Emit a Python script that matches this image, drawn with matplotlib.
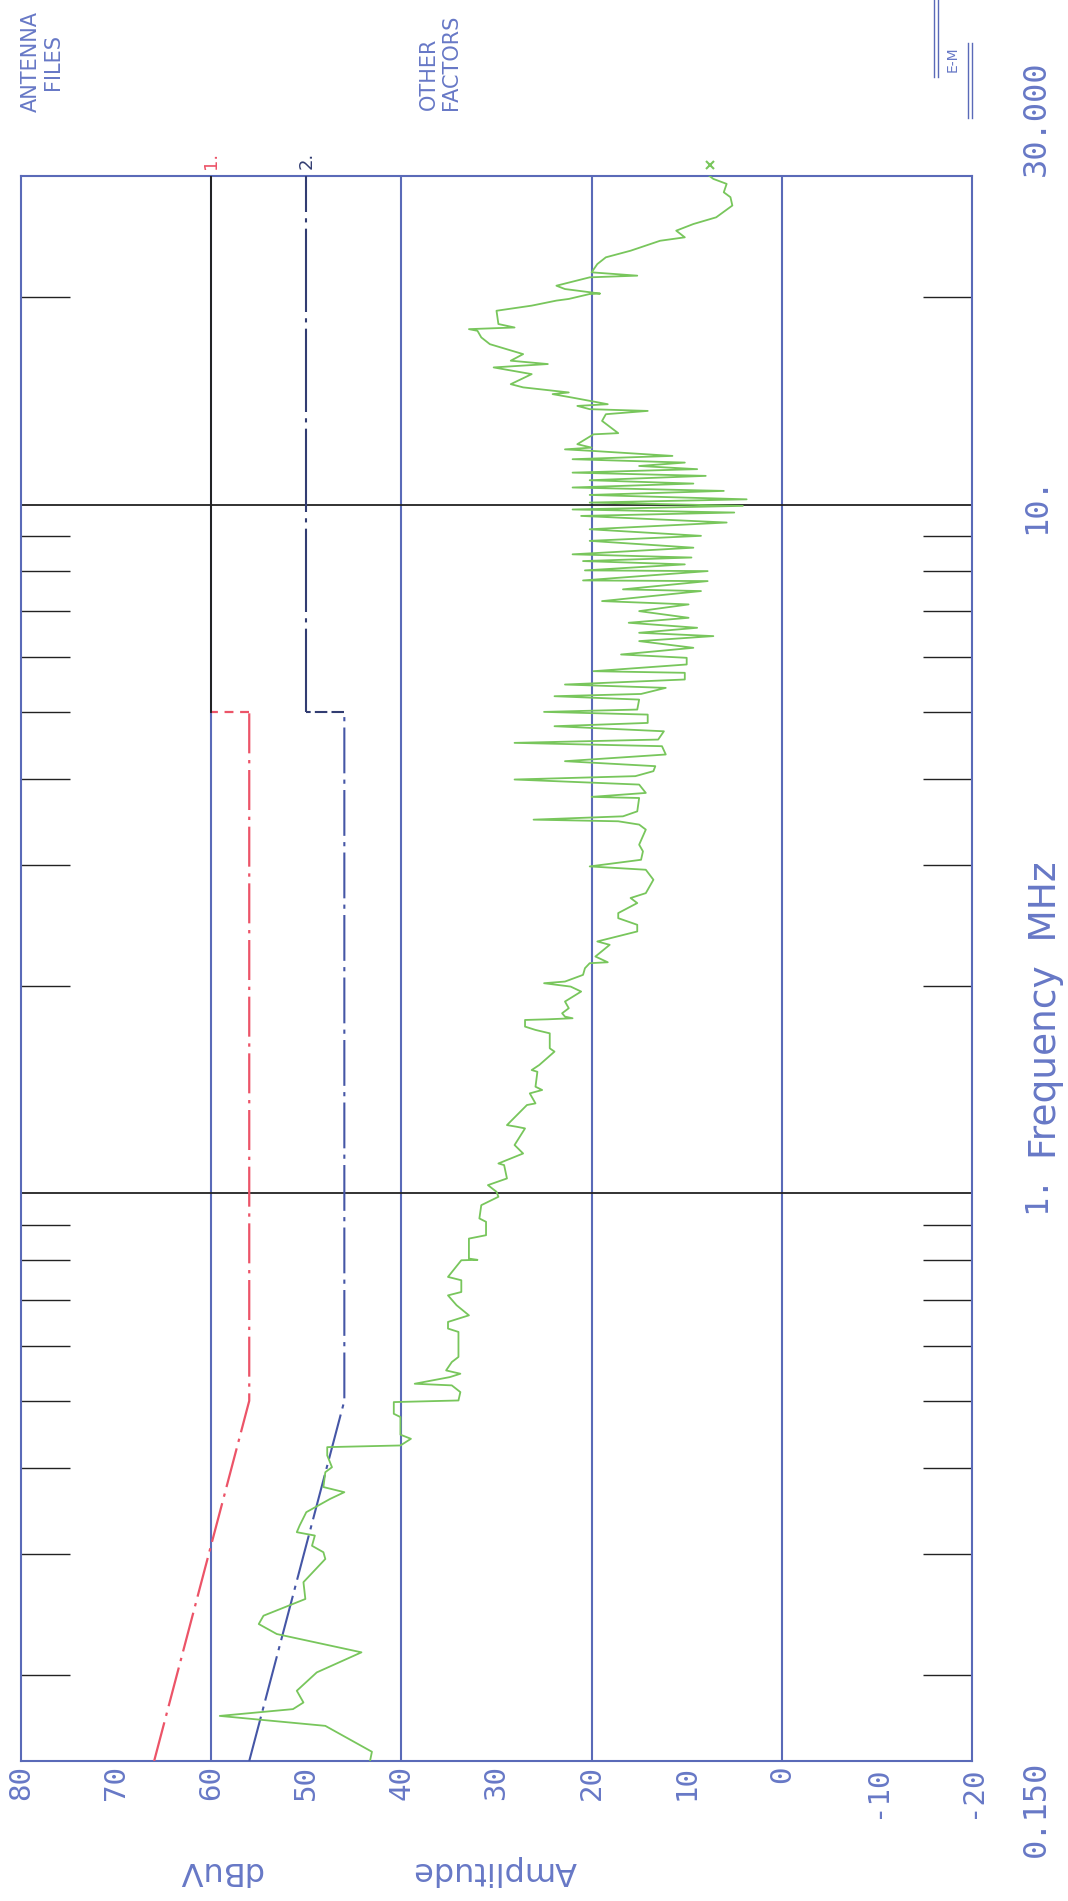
"""
Conducted emissions scan, 0.15-30 MHz, with class limit lines.
Plotter output, drawn rotated a quarter turn (frequency runs upward).
"""
import matplotlib
matplotlib.use("Agg")
import matplotlib.pyplot as plt
import matplotlib.transforms as mtransforms
from matplotlib.lines import Line2D
from matplotlib.ticker import FixedLocator, NullFormatter

W, H = 1068, 1901
BLUE = "#5a6ab8"
TEXT_BLUE = "#6778c6"
GREEN = "#78c65c"
RED = "#ec5468"
NAVY = "#323d72"
INK = "#222222"
MONO = ["DejaVu Sans Mono", "DejaVu Sans"]
NARROW = ["Liberation Sans Narrow", "DejaVu Sans"]

plt.rcParams.update({"font.family": "DejaVu Sans"})

# measured trace (MHz, dBuV)
TRACE_F = [
    0.150, 0.1547, 0.1687, 0.1744, 0.1784, 0.1824, 0.1897, 0.2017, 0.2157, 0.2293,
    0.2371, 0.2438, 0.2578, 0.2727, 0.2947, 0.3014, 0.308, 0.3187, 0.3223, 0.3296,
    0.3446, 0.3602, 0.3684, 0.3748, 0.3939, 0.4005, 0.4166, 0.4283, 0.4307, 0.4404,
    0.4465, 0.4736, 0.4788, 0.4979, 0.5006, 0.5148, 0.5265, 0.5294, 0.5413, 0.5474,
    0.5535, 0.5692, 0.579, 0.6295, 0.6366, 0.6509, 0.6654, 0.6883, 0.7113, 0.7194,
    0.7482, 0.7566, 0.7999, 0.801, 0.8044, 0.860, 0.8698, 0.9096, 0.9199, 0.9616,
    0.989, 1.0056, 1.0283, 1.0515, 1.0995, 1.1055, 1.143, 1.1758, 1.243, 1.250,
    1.2568, 1.344, 1.3514, 1.3974, 1.4133, 1.4289, 1.502, 1.5107, 1.5366, 1.6067,
    1.6245, 1.708, 1.7275, 1.7468, 1.786, 1.790, 1.7963, 1.806, 1.8265, 1.8575,
    1.8995, 1.964, 1.9968, 2.0195, 2.0307, 2.0766, 2.1232, 2.1593, 2.166, 2.208,
    2.296, 2.322, 2.401, 2.455, 2.510, 2.553, 2.640, 2.685, 2.729, 2.854,
    2.951, 2.984, 3.051, 3.138, 3.209, 3.375, 3.432, 3.470, 3.489, 3.528,
    3.587, 3.751, 3.765, 3.815, 3.923, 3.990, 4.035, 4.103, 4.172, 4.242,
    4.338, 4.460, 4.510, 4.560, 4.688, 4.768, 4.821, 4.957, 5.002, 5.041,
    5.212, 5.271, 5.311, 5.420, 5.481, 5.574, 5.700, 5.731, 5.861, 5.993,
    6.060, 6.197, 6.337, 6.444, 6.516, 6.626, 6.738, 6.851, 7.005, 7.164,
    7.244, 7.491, 7.534, 7.745, 7.762, 8.008, 8.027, 8.190, 8.281, 8.38,
    8.47, 8.66, 8.86, 9.01, 9.21, 9.42, 9.63, 9.74, 9.84, 9.96,
    10.07, 10.18, 10.33, 10.47, 10.59, 10.73, 10.85, 11.01, 11.13, 11.26,
    11.38, 11.51, 11.64, 11.77, 11.97, 12.03, 12.10, 12.24, 12.65, 12.70,
    13.23, 13.53, 13.68, 13.76, 13.91, 13.99, 14.15, 14.30, 14.47, 14.55,
    14.80, 14.96, 15.47, 15.82, 16.00, 16.18, 16.54, 17.10, 17.49, 17.88,
    17.98, 18.08, 18.29, 19.12, 19.45, 19.78, 19.89, 20.22, 20.25, 20.56,
    20.79, 21.38, 21.50, 21.74, 22.35, 22.86, 23.37, 24.16, 24.44, 24.99,
    25.55, 26.13, 27.18, 27.95, 28.41, 29.22, 29.71, 30.0,
]
TRACE_DB = [
    43.3, 43.1, 48.0, 59.1, 51.4, 50.3, 51.0, 48.9, 44.2, 53.1,
    55.0, 54.5, 50.1, 50.3, 48.0, 48.2, 49.4, 49.1, 51.0, 50.7,
    50.0, 47.5, 46.0, 48.2, 48.0, 47.3, 47.8, 47.8, 40.1, 39.0,
    40.1, 40.1, 40.8, 40.8, 34.0, 33.8, 34.7, 38.6, 34.9, 33.8,
    35.3, 34.7, 34.0, 34.0, 35.1, 35.1, 32.9, 34.2, 35.1, 33.7,
    33.7, 35.1, 33.7, 32.0, 32.9, 32.9, 31.1, 31.1, 31.8, 31.6,
    29.8, 30.0, 30.9, 28.9, 29.2, 29.8, 27.2, 28.1, 27.0, 27.9,
    28.9, 26.8, 25.9, 26.5, 25.2, 25.9, 25.7, 26.3, 25.5, 23.9,
    24.4, 24.4, 25.9, 27.0, 27.0, 24.6, 22.0, 22.8, 23.1, 22.4,
    22.8, 21.1, 22.2, 25.0, 22.8, 20.9, 20.7, 20.2, 18.3, 19.6,
    18.1, 19.4, 15.2, 15.2, 17.2, 17.2, 15.2, 15.9, 14.3, 13.5,
    14.3, 20.2, 14.8, 14.6, 15.0, 14.3, 15.0, 17.2, 26.1, 16.7,
    15.2, 15.0, 20.0, 14.3, 15.0, 28.1, 15.4, 13.5, 13.3, 22.8,
    12.2, 12.6, 28.1, 13.0, 12.4, 23.9, 14.1, 14.1, 25.0, 15.2,
    15.0, 23.9, 14.8, 12.2, 22.8, 10.2, 10.2, 19.8, 10.0, 10.0,
    16.9, 9.3, 15.0, 7.2, 15.0, 8.9, 16.1, 9.8, 15.0, 9.8,
    18.9, 8.5, 16.7, 7.8, 20.9, 7.8, 20.7, 10.2, 20.9, 9.5,
    22.0, 9.3, 20.2, 8.5, 20.2, 5.8, 21.1, 5.0, 22.0, 4.1,
    20.2, 3.7, 20.2, 6.1, 22.0, 9.3, 20.2, 8.0, 22.0, 8.9,
    15.0, 10.2, 22.0, 11.5, 20.0, 22.8, 20.0, 21.5, 19.8, 17.2,
    18.9, 18.5, 14.1, 20.2, 21.5, 18.3, 20.2, 22.0, 24.1, 22.4,
    27.2, 28.5, 26.3, 30.3, 24.6, 28.5, 27.2, 30.7, 31.6, 32.0,
    32.9, 28.1, 29.8, 30.0, 26.3, 23.7, 22.4, 20.2, 19.1, 22.8,
    23.7, 20.2, 15.2, 20.0, 19.4, 18.5, 15.9, 12.8, 10.2, 11.1,
    9.3, 6.9, 5.2, 5.4, 6.1, 5.8, 7.2, 7.6,
]

# limit line 1 (quasi-peak) and limit line 2 (average)
LIM1_F = [0.15, 0.5, 5.0, 5.0, 30.0]
LIM1_DB = [66, 56, 56, 60, 60]
LIM2_F = [0.15, 0.5, 5.0, 5.0, 30.0]
LIM2_DB = [56, 46, 46, 50, 50]

AMP_TICKS = [80, 70, 60, 50, 40, 30, 20, 10, 0, -10, -20]
AMP_LABELS = ["80", "70", "60", "50", "40", "30", "20", "10", "0", "-10", "-20"]
AMP_GRID = [60, 40, 20, 0]
AMP_MINOR = [70, 50, 30, 10, -10]
FREQ_GRID = [1.0, 10.0]
FREQ_MINOR = [0.2, 0.3, 0.4, 0.5, 0.6, 0.7, 0.8, 0.9,
              2, 3, 4, 5, 6, 7, 8, 9, 20]
FREQ_TEXT = [(0.15, "0.150", "top"), (1.0, "1.", "center"),
             (10.0, "10.", "center"), (30.0, "30.000", "bottom")]


def fx(x):
    return x / W


def fy(y):
    return 1 - y / H


fig = plt.figure(figsize=(W / 100, H / 100), dpi=100)
ax = fig.add_axes([fx(21), fy(1761), (972 - 21) / W, (1761 - 176) / H])
ax.set_xlim(80, -20)
ax.set_yscale("log")
ax.set_ylim(0.15, 30)

for s in ax.spines.values():
    s.set_color(BLUE)
    s.set_linewidth(1.5)

# amplitude ticks: labels on every 10, short marks on the odd ones
ax.set_xticks(AMP_TICKS)
ax.set_xticklabels(AMP_LABELS, rotation=90, fontsize=21, color=TEXT_BLUE,
                   family=MONO)
ax.xaxis.set_minor_locator(FixedLocator(AMP_MINOR))
ax.tick_params(axis="x", which="major", length=0, pad=3)
ax.tick_params(axis="x", which="minor", direction="in", length=38,
               width=1.5, color=BLUE, bottom=True, top=False)

# frequency ticks on both sides, no labels from the axis
ax.set_yticks([])
ax.yaxis.set_minor_locator(FixedLocator(FREQ_MINOR))
ax.yaxis.set_minor_formatter(NullFormatter())
ax.tick_params(axis="y", which="minor", direction="in", length=35,
               width=1.0, color=INK, left=True, right=True)

for a in AMP_GRID:
    ax.axvline(a, color=BLUE, lw=1.5, zorder=1)
for f in FREQ_GRID:
    ax.axhline(f, color=INK, lw=1.3, zorder=1)

# limit 1
ax.plot(LIM1_DB[:3], LIM1_F[:3], color=RED, lw=1.6,
        ls=(0, (18, 3, 1.5, 3)), zorder=3)
ax.plot(LIM1_DB[2:4], LIM1_F[2:4], color=RED, lw=1.6, ls=(0, (4, 3)), zorder=3)
ax.plot(LIM1_DB[3:], LIM1_F[3:], color=INK, lw=1.4, zorder=3)

# limit 2
ax.plot(LIM2_DB[:3], LIM2_F[:3], color="#4556a6", lw=1.5,
        ls=(0, (22, 3, 2, 3)), zorder=3)
ax.plot(LIM2_DB[2:4], LIM2_F[2:4], color=NAVY, lw=1.5, ls=(0, (6, 2)), zorder=3)
ax.plot(LIM2_DB[3:], LIM2_F[3:], color=NAVY, lw=1.5,
        ls=(0, (40, 3, 2, 3)), zorder=3)

ax.plot(TRACE_DB, TRACE_F, color=GREEN, lw=1.3, zorder=4)
end_mark = ax.transData + mtransforms.ScaledTranslation(0, 11 / 100, fig.dpi_scale_trans)
ax.plot([TRACE_DB[-1]], [TRACE_F[-1]], marker="x", ms=6, mew=1.5,
        color=GREEN, transform=end_mark, clip_on=False, zorder=5)

# limit line numbers above the frame
lab_tr = ax.transData + mtransforms.ScaledTranslation(0, 16 / 100, fig.dpi_scale_trans)
ax.text(LIM1_DB[-1], LIM1_F[-1], "1.", transform=lab_tr, rotation=90,
        ha="center", va="center", fontsize=13, color=RED)
ax.text(LIM2_DB[-1], LIM2_F[-1], "2.", transform=lab_tr, rotation=90,
        ha="center", va="center", fontsize=13, color=NAVY)

# frequency labels along the right side
ftr = mtransforms.blended_transform_factory(ax.transAxes, ax.transData)
for f, s, va in FREQ_TEXT:
    ax.text(1.068, f, s, transform=ftr, rotation=90, ha="center", va=va,
            fontsize=23, color=TEXT_BLUE, family=MONO)
fig.text(fx(1046), fy(1010), "Frequency  MHz", rotation=90, ha="center",
         va="center", fontsize=27, color=TEXT_BLUE)

# amplitude axis title, upside down
fig.text(fx(495), fy(1870), "Amplitude", rotation=180, ha="center",
         va="center", fontsize=23, color=TEXT_BLUE)
fig.text(fx(220), fy(1870), "dBuV", rotation=180, ha="center",
         va="center", fontsize=23, color=TEXT_BLUE)

# header notes
fig.text(fx(42), fy(62), "ANTENNA\nFILES", rotation=90, ha="center",
         va="center", multialignment="center", fontsize=15, color=TEXT_BLUE,
         family=NARROW, linespacing=1.1)
fig.text(fx(440), fy(110), "OTHER\nFACTORS", rotation=90, ha="center",
         va="bottom", multialignment="left", fontsize=15, color=TEXT_BLUE,
         family=NARROW, linespacing=1.1)

# E-M badge
for x, y0, y1 in [(934, 0, 77), (938, 0, 77), (968, 43, 118), (972, 43, 118)]:
    fig.add_artist(Line2D([fx(x), fx(x)], [fy(y0), fy(y1)],
                          transform=fig.transFigure, color=BLUE, lw=1.0))
fig.text(fx(953), fy(59), "E-M", rotation=90, ha="center", va="center",
         fontsize=10, color=TEXT_BLUE)

fig.savefig("out.png", dpi=100, facecolor="white")
